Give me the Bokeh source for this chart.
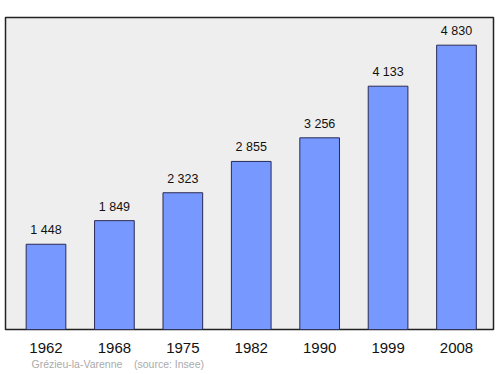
from bokeh.plotting import figure
from bokeh.models import ColumnDataSource, FixedTicker, Title
from bokeh.core.properties import value
from bokeh.embed import file_html
from bokeh.resources import INLINE

years = ["1962", "1968", "1975", "1982", "1990", "1999", "2008"]
population = [1448, 1849, 2323, 2855, 3256, 4133, 4830]
labels = ["1 448", "1 849", "2 323", "2 855", "3 256", "4 133", "4 830"]
source_text = "Grézieu-la-Varenne\u00a0\u00a0\u00a0\u00a0(source: Insee)"

idx = list(range(len(years)))
src = ColumnDataSource(dict(x=idx, top=population, label=labels))

p = figure(width=500, height=374, output_backend="svg", toolbar_location=None,
           x_range=(-0.592, 6.541), y_range=(0, 5300),
           min_border_left=5, min_border_right=7, min_border_top=17, min_border_bottom=45)
p.background_fill_color = "#eeeeee"
p.border_fill_color = "white"
p.outline_line_color = "#222222"
p.outline_line_width = 1.5
p.grid.visible = False
p.yaxis.visible = False

p.vbar(x="x", top="top", width=0.58, bottom=0, source=src,
       fill_color="#7799ff", line_color="#2a2a55", line_width=1)
p.text(x="x", y="top", text="label", source=src, text_align="center",
       text_baseline="bottom", y_offset=-7, text_font_size="12.5px",
       text_color="#111111", text_font=value("Liberation Sans"))

ax = p.xaxis[0]
ax.ticker = FixedTicker(ticks=idx)
ax.major_label_overrides = {i: y for i, y in zip(idx, years)}
ax.axis_line_color = None
ax.major_tick_line_color = None
ax.minor_tick_line_color = None
ax.major_label_text_font_size = "15px"
ax.major_label_text_font = "Liberation Sans"
ax.major_label_text_color = "#111111"
ax.major_label_standoff = 7

t = Title(text=source_text, align="left", offset=26,
          text_font_size="10.5px", text_font="Liberation Sans", text_font_style="normal",
          text_color="#aaaaaa", standoff=0)
p.add_layout(t, "below")

open("out.html", "w").write(file_html(p, INLINE))
